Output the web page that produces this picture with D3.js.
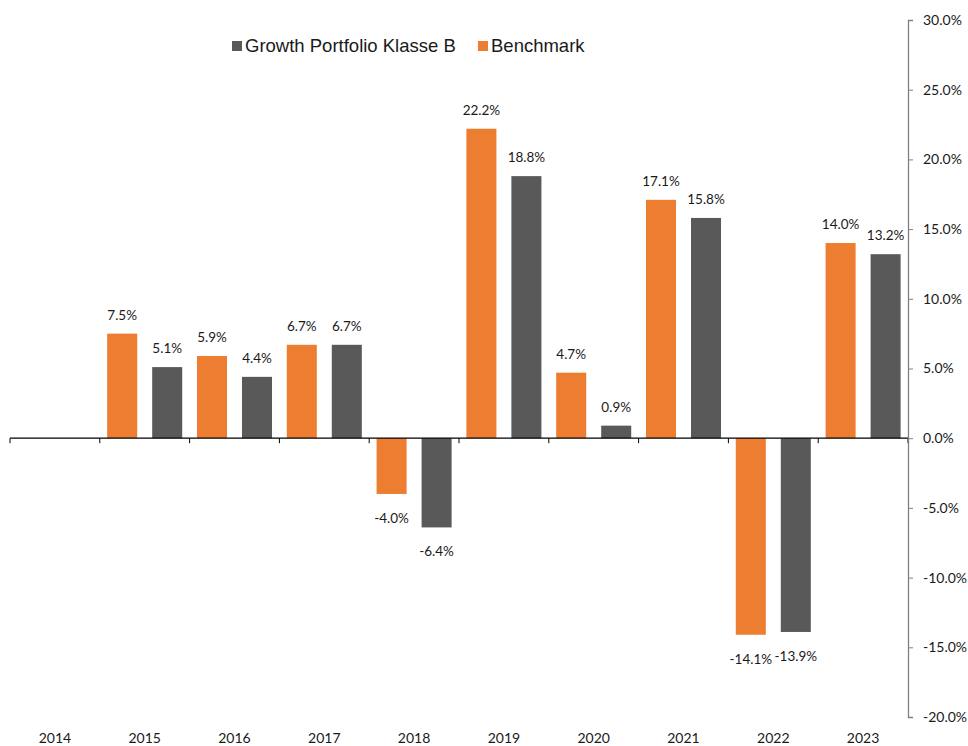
<!DOCTYPE html>
<html>
<head>
<meta charset="utf-8">
<script src="https://cdn.jsdelivr.net/npm/d3@7"></script>
<style>
  body { margin: 0; background: #fff; }
  svg { display: block; }
</style>
</head>
<body>
<div id="chart"></div>
<script>
// yearly returns, values in percent
var years = ['2014', '2015', '2016', '2017', '2018', '2019', '2020', '2021', '2022', '2023'];
var benchmark = [null, 7.5, 5.9, 6.7, -4.0, 22.2, 4.7, 17.1, -14.1, 14.0];
var portfolio = [null, 5.1, 4.4, 6.7, -6.4, 18.8, 0.9, 15.8, -13.9, 13.2];
var yTicks = [30, 25, 20, 15, 10, 5, 0, -5, -10, -15, -20];

(function(d3) {
  'use strict';
  var width = 968;
  var height = 746;
  var orange = '#ED7D31';
  var grey = '#595959';
  var numFont = 'Lato, "Open Sans", sans-serif';

  var svg = d3.select('#chart')
    .append('svg')
    .attr('width', width)
    .attr('height', height);

  var x = d3.scaleBand()
    .domain(years)
    .range([10, 908])
    .paddingInner(0)
    .paddingOuter(0);

  var y = d3.scaleLinear()
    .domain([-20, 30])
    .range([717, 20]);

  // one sub-band per series inside each year
  var seriesNames = ['Benchmark', 'Growth Portfolio Klasse B'];
  var sub = d3.scaleBand()
    .domain(seriesNames)
    .range([0, x.bandwidth()])
    .paddingInner(0.333)
    .paddingOuter(0.164);

  var colors = { 'Benchmark': orange, 'Growth Portfolio Klasse B': grey };

  var rows = [];
  years.forEach(function(yr, i) {
    if (benchmark[i] !== null) rows.push({ year: yr, name: 'Benchmark', v: benchmark[i] });
    if (portfolio[i] !== null) rows.push({ year: yr, name: 'Growth Portfolio Klasse B', v: portfolio[i] });
  });

  svg.selectAll('.bar')
    .data(rows)
    .enter()
    .append('rect')
    .attr('class', 'bar')
    .attr('x', function(d) { return x(d.year) + sub(d.name); })
    .attr('width', sub.bandwidth())
    .attr('y', function(d) { return y(Math.max(0, d.v)); })
    .attr('height', function(d) { return Math.abs(y(d.v) - y(0)); })
    .attr('fill', function(d) { return colors[d.name]; });

  svg.selectAll('.lbl')
    .data(rows)
    .enter()
    .append('text')
    .attr('class', 'lbl')
    .attr('x', function(d) { return x(d.year) + sub(d.name) + sub.bandwidth() / 2; })
    .attr('y', function(d) { return d.v >= 0 ? y(d.v) - 14 : y(d.v) + 29; })
    .attr('text-anchor', 'middle')
    .style('font-family', numFont)
    .style('font-size', '13.5px')
    .style('fill', '#1a1a1a')
    .text(function(d) { return d.v.toFixed(1) + '%'; });

  // category axis along zero
  var xAxis = svg.append('g')
    .attr('transform', 'translate(0,' + y(0) + ')');
  xAxis.append('line')
    .attr('x1', 10).attr('x2', 908)
    .attr('y1', 0).attr('y2', 0)
    .attr('stroke', '#000')
    .attr('stroke-width', 1.3);
  xAxis.selectAll('.xt')
    .data(years.concat(['end']))
    .enter()
    .append('line')
    .attr('class', 'xt')
    .attr('x1', function(d, i) { return i < years.length ? x(d) : 908; })
    .attr('x2', function(d, i) { return i < years.length ? x(d) : 908; })
    .attr('y1', 0).attr('y2', 5)
    .attr('stroke', '#000');

  svg.selectAll('.xl')
    .data(years)
    .enter()
    .append('text')
    .attr('class', 'xl')
    .attr('x', function(d) { return x(d) + x.bandwidth() / 2; })
    .attr('y', 743)
    .attr('text-anchor', 'middle')
    .style('font-family', numFont)
    .style('font-size', '14px')
    .style('fill', '#1a1a1a')
    .text(function(d) { return d; });

  // value axis on the right
  var yAxis = d3.axisRight(y)
    .tickValues(yTicks)
    .tickSize(5)
    .tickPadding(10)
    .tickFormat(function(d) { return d.toFixed(1) + '%'; });

  var ya = svg.append('g')
    .attr('transform', 'translate(908,0)')
    .call(yAxis);
  ya.select('.domain').attr('stroke', '#808080').attr('stroke-width', 1.3);
  ya.selectAll('.tick line').attr('stroke', '#808080');
  ya.selectAll('.tick text')
    .style('font-family', numFont)
    .style('font-size', '14px')
    .style('fill', '#1a1a1a');

  // legend
  var legendItems = [
    { name: 'Growth Portfolio Klasse B', x: 232 },
    { name: 'Benchmark', x: 478 }
  ];
  var legend = svg.selectAll('.legend')
    .data(legendItems)
    .enter()
    .append('g')
    .attr('class', 'legend')
    .attr('transform', function(d) { return 'translate(' + d.x + ',40)'; });
  legend.append('rect')
    .attr('width', 10)
    .attr('height', 10)
    .attr('y', 1)
    .style('fill', function(d) { return colors[d.name]; });
  legend.append('text')
    .attr('x', 13)
    .attr('y', 11.5)
    .style('font-family', '"Liberation Sans", Arial, sans-serif')
    .style('font-size', '18.5px')
    .style('fill', '#1a1a1a')
    .text(function(d) { return d.name; });
})(window.d3);
</script>
</body>
</html>
